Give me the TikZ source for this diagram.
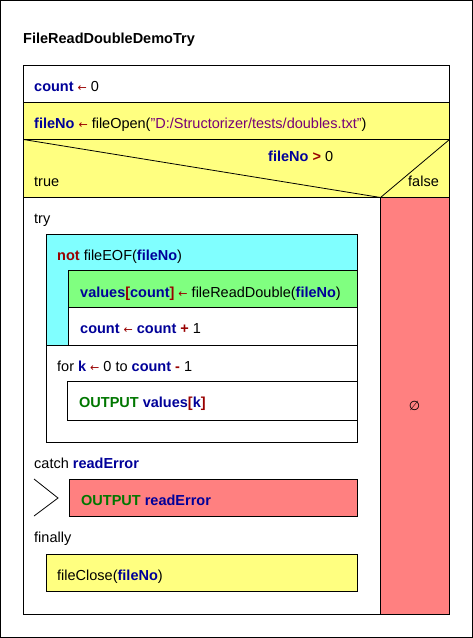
\documentclass[tikz,border=0pt]{standalone}
\usepackage{fontspec}
\setmainfont{Liberation Sans}
\newfontfamily\symfont{DejaVu Sans}
\definecolor{varc}{HTML}{000099}
\definecolor{opc}{HTML}{990000}
\definecolor{strc}{HTML}{770077}
\definecolor{kwc}{HTML}{007700}
\definecolor{yel}{HTML}{FFFF80}
\definecolor{cya}{HTML}{80FFFF}
\definecolor{gre}{HTML}{80FF80}
\definecolor{redf}{HTML}{FF8080}
\newcommand\Vr[1]{\textcolor{varc}{\bfseries #1}}
\newcommand\Op[1]{\textcolor{opc}{\bfseries #1}}
\newcommand\Str[1]{\textcolor{strc}{#1}}
\newcommand\Kw[1]{\textcolor{kwc}{\bfseries #1}}
\newcommand\Asg{\textcolor{opc}{\symfont\fontsize{11}{11}\selectfont ←}}
\begin{document}
\begin{tikzpicture}[x=1pt,y=-1pt,
  txt/.style={anchor=base west, inner sep=0pt, font=\fontsize{14.5}{17}\selectfont},
  box/.style={draw=black, line width=1pt},
  thin/.style={draw=black, line width=0.8pt}]
\useasboundingbox (0,0) rectangle (473,638);
% outer frame
\draw[box, fill=white] (0.5,0.5) rectangle (472.5,637.5);
% fills
\fill[white] (23.5,65.5) rectangle (449.5,614.5);
\fill[yel] (23.5,102.5) rectangle (449.5,197.5);
\fill[redf] (380.5,197.5) rectangle (449.5,614.5);
\fill[cya] (46.5,234.5) rectangle (357.5,345.5);
\fill[gre] (68.5,270.5) rectangle (357.5,307.5);
\fill[white] (68.5,307.5) rectangle (357.5,345.5);
\fill[redf] (69.5,479.5) rectangle (357.5,516.5);
\fill[yel] (46.5,554.5) rectangle (357.5,591.5);
% main outline
\draw[box] (23.5,65.5) rectangle (449.5,614.5);
\draw[box] (23.5,102.5) -- (449.5,102.5);
\draw[box] (23.5,139.5) -- (449.5,139.5);
\draw[box] (23.5,197.5) -- (449.5,197.5);
\draw[thin] (23.5,139.5) -- (380.5,197.5) -- (449.5,139.5);
\draw[box] (380.5,197.5) -- (380.5,614.5);
% while
\draw[box] (46.5,234.5) rectangle (357.5,345.5);
\draw[box] (68.5,270.5) rectangle (357.5,345.5);
\draw[box] (68.5,307.5) -- (357.5,307.5);
% for
\draw[box] (46.5,345.5) rectangle (357.5,442.5);
\draw[box] (67.5,381.5) rectangle (357.5,420.5);
% catch
\draw[thin] (34,479) -- (58,498) -- (34,516);
\draw[box] (69.5,479.5) rectangle (357.5,516.5);
% finally
\draw[box] (46.5,554.5) rectangle (357.5,591.5);
% texts
\node[txt] (title) at (23,43) {\bfseries FileReadDoubleDemoTry};
\node[txt] (t1) at (34,91) {\Vr{count} \Asg{} 0};
\node[txt] (t2) at (34,128) {\Vr{fileNo} \Asg{} fileOpen(\Str{"D:/Structorizer/tests/doubles.txt"})};
\node[txt] (cond) at (268,161) {\Vr{fileNo} \Op{>} 0};
\node[txt] (tt) at (34,186) {true};
\node[txt] (tf) at (408,186) {false};
\node[txt] (try) at (34,223) {try};
\node[txt] (wh) at (57,260) {\Op{not} fileEOF(\Vr{fileNo})};
\node[txt] (rd) at (80,297) {\Vr{values}\Op{[}\Vr{count}\Op{]} \Asg{} fileReadDouble(\Vr{fileNo})};
\node[txt] (inc) at (80,333) {\Vr{count} \Asg{} \Vr{count} \Op{+} 1};
\node[txt] (for) at (57,371) {for \Vr{k} \Asg{} 0 to \Vr{count} \Op{-} 1};
\node[txt] (out) at (79,407) {\Kw{OUTPUT} \Vr{values}\Op{[}\Vr{k}\Op{]}};
\node[anchor=center, inner sep=0pt, font=\symfont\fontsize{13}{15}\selectfont] (empty) at (414.5,406) {∅};
\node[txt] (catch) at (34,468) {catch \Vr{readError}};
\node[txt] (oerr) at (81,505) {\Kw{OUTPUT} \Vr{readError}};
\node[txt] (fin) at (34,542) {finally};
\node[txt] (close) at (57,580) {fileClose(\Vr{fileNo})};
\end{tikzpicture}
\end{document}
